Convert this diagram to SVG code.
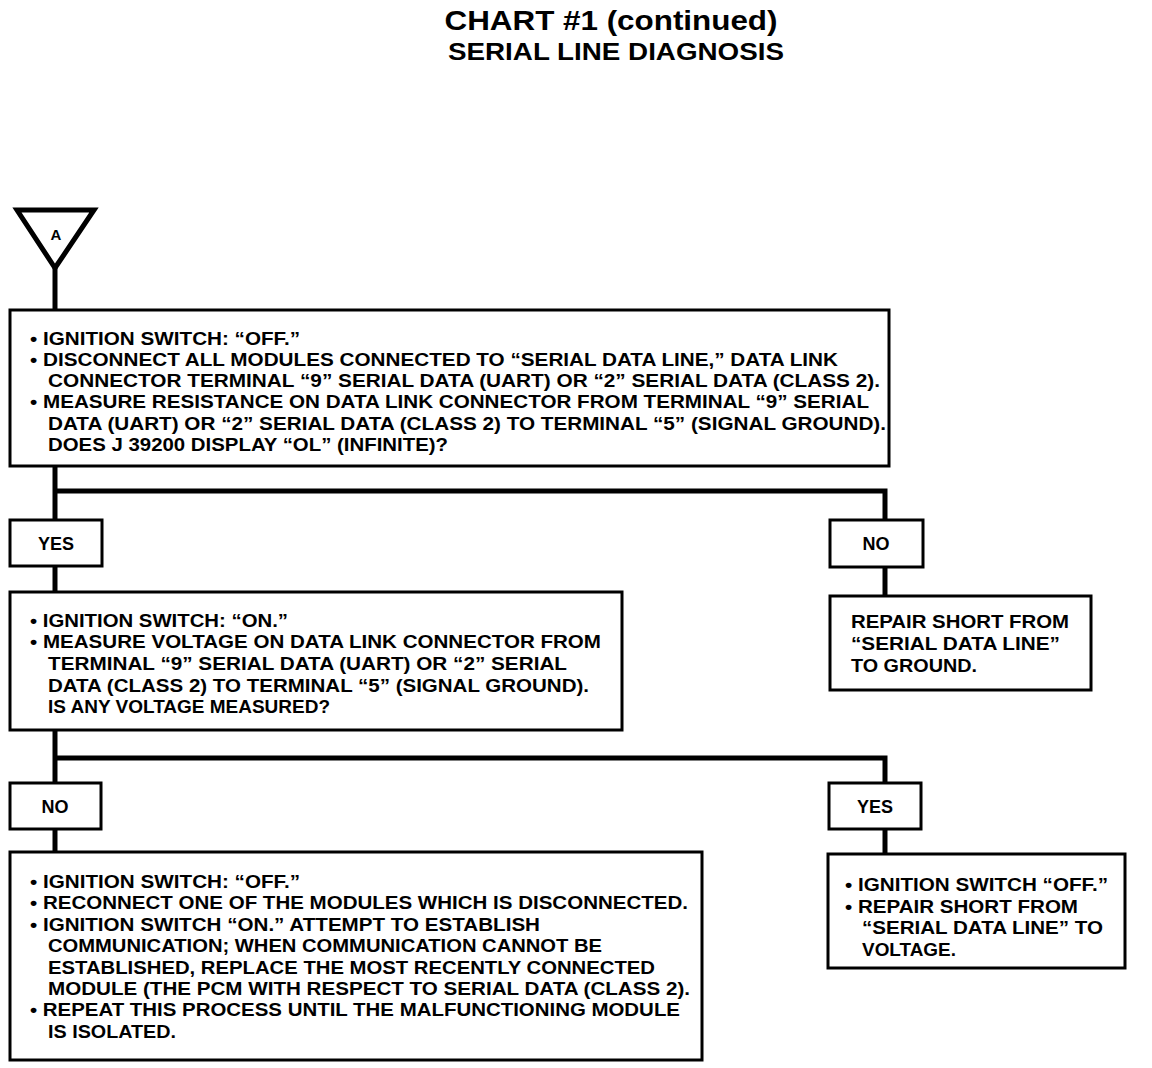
<svg xmlns="http://www.w3.org/2000/svg" width="1152" height="1068" viewBox="0 0 1152 1068">
<style>
.box{fill:#fff;stroke:#000;stroke-width:3}
.ln{fill:none;stroke:#000;stroke-width:5}
text{font-family:"Liberation Sans",Arial,sans-serif;font-weight:bold;fill:#000}
.t{font-size:18px}
.lbl{font-size:18px;text-anchor:middle}
</style>
<rect width="1152" height="1068" fill="#fff"/>
<g id="title">
<text x="611" y="30" font-size="28" text-anchor="middle" textLength="333" lengthAdjust="spacingAndGlyphs">CHART #1 (continued)</text>
<text x="616" y="60" font-size="24" text-anchor="middle" textLength="336" lengthAdjust="spacingAndGlyphs">SERIAL LINE DIAGNOSIS</text>
</g>
<g id="connectors">
<line class="ln" x1="55" y1="268" x2="55" y2="310"/>
<line class="ln" x1="55" y1="466" x2="55" y2="520"/>
<polyline class="ln" points="55,491 885,491 885,520"/>
<line class="ln" x1="55" y1="566" x2="55" y2="592"/>
<line class="ln" x1="885" y1="567" x2="885" y2="596"/>
<line class="ln" x1="55" y1="730" x2="55" y2="783"/>
<polyline class="ln" points="55,758 885,758 885,783"/>
<line class="ln" x1="55" y1="829" x2="55" y2="852"/>
<line class="ln" x1="885" y1="829" x2="885" y2="854"/>
</g>
<g id="start">
<polygon points="17,210 94,210 55,268" fill="#fff" stroke="#000" stroke-width="5" stroke-linejoin="miter"/>
<text x="56" y="240" font-size="15" text-anchor="middle">A</text>
</g>
<g id="box1">
<rect class="box" x="10" y="310" width="879" height="156"/>
<text class="t" x="30" y="345" textLength="270" lengthAdjust="spacingAndGlyphs">• IGNITION SWITCH: “OFF.”</text>
<text class="t" x="30" y="366" textLength="808" lengthAdjust="spacingAndGlyphs">• DISCONNECT ALL MODULES CONNECTED TO “SERIAL DATA LINE,” DATA LINK</text>
<text class="t" x="48" y="387" textLength="832" lengthAdjust="spacingAndGlyphs">CONNECTOR TERMINAL “9” SERIAL DATA (UART) OR “2” SERIAL DATA (CLASS 2).</text>
<text class="t" x="30" y="408" textLength="839" lengthAdjust="spacingAndGlyphs">• MEASURE RESISTANCE ON DATA LINK CONNECTOR FROM TERMINAL “9” SERIAL</text>
<text class="t" x="48" y="430" textLength="838" lengthAdjust="spacingAndGlyphs">DATA (UART) OR “2” SERIAL DATA (CLASS 2) TO TERMINAL “5” (SIGNAL GROUND).</text>
<text class="t" x="48" y="451" textLength="400" lengthAdjust="spacingAndGlyphs">DOES J 39200 DISPLAY “OL” (INFINITE)?</text>
</g>
<g id="yes1">
<rect class="box" x="10" y="520" width="92" height="46"/>
<text class="lbl" x="56" y="550">YES</text>
</g>
<g id="no1">
<rect class="box" x="830" y="520" width="93" height="47"/>
<text class="lbl" x="876" y="550">NO</text>
</g>
<g id="box2">
<rect class="box" x="10" y="592" width="612" height="138"/>
<text class="t" x="30" y="627" textLength="258" lengthAdjust="spacingAndGlyphs">• IGNITION SWITCH: “ON.”</text>
<text class="t" x="30" y="648" textLength="571" lengthAdjust="spacingAndGlyphs">• MEASURE VOLTAGE ON DATA LINK CONNECTOR FROM</text>
<text class="t" x="48" y="670" textLength="519" lengthAdjust="spacingAndGlyphs">TERMINAL “9” SERIAL DATA (UART) OR “2” SERIAL</text>
<text class="t" x="48" y="692" textLength="541" lengthAdjust="spacingAndGlyphs">DATA (CLASS 2) TO TERMINAL “5” (SIGNAL GROUND).</text>
<text class="t" x="48" y="713" textLength="282" lengthAdjust="spacingAndGlyphs">IS ANY VOLTAGE MEASURED?</text>
</g>
<g id="repair1">
<rect class="box" x="830" y="596" width="261" height="94"/>
<text class="t" x="851" y="628" textLength="218" lengthAdjust="spacingAndGlyphs">REPAIR SHORT FROM</text>
<text class="t" x="851" y="650" textLength="209" lengthAdjust="spacingAndGlyphs">“SERIAL DATA LINE”</text>
<text class="t" x="851" y="672" textLength="126" lengthAdjust="spacingAndGlyphs">TO GROUND.</text>
</g>
<g id="no2">
<rect class="box" x="10" y="783" width="91" height="46"/>
<text class="lbl" x="55" y="813">NO</text>
</g>
<g id="yes2">
<rect class="box" x="829" y="783" width="92" height="46"/>
<text class="lbl" x="875" y="813">YES</text>
</g>
<g id="box3">
<rect class="box" x="10" y="852" width="692" height="208"/>
<text class="t" x="30" y="888" textLength="270" lengthAdjust="spacingAndGlyphs">• IGNITION SWITCH: “OFF.”</text>
<text class="t" x="30" y="909" textLength="658" lengthAdjust="spacingAndGlyphs">• RECONNECT ONE OF THE MODULES WHICH IS DISCONNECTED.</text>
<text class="t" x="30" y="931" textLength="510" lengthAdjust="spacingAndGlyphs">• IGNITION SWITCH “ON.” ATTEMPT TO ESTABLISH</text>
<text class="t" x="48" y="952" textLength="554" lengthAdjust="spacingAndGlyphs">COMMUNICATION; WHEN COMMUNICATION CANNOT BE</text>
<text class="t" x="48" y="974" textLength="607" lengthAdjust="spacingAndGlyphs">ESTABLISHED, REPLACE THE MOST RECENTLY CONNECTED</text>
<text class="t" x="48" y="995" textLength="642" lengthAdjust="spacingAndGlyphs">MODULE (THE PCM WITH RESPECT TO SERIAL DATA (CLASS 2).</text>
<text class="t" x="30" y="1016" textLength="650" lengthAdjust="spacingAndGlyphs">• REPEAT THIS PROCESS UNTIL THE MALFUNCTIONING MODULE</text>
<text class="t" x="48" y="1038" textLength="128" lengthAdjust="spacingAndGlyphs">IS ISOLATED.</text>
</g>
<g id="box4">
<rect class="box" x="828" y="854" width="297" height="114"/>
<text class="t" x="845" y="891" textLength="263" lengthAdjust="spacingAndGlyphs">• IGNITION SWITCH “OFF.”</text>
<text class="t" x="845" y="913" textLength="233" lengthAdjust="spacingAndGlyphs">• REPAIR SHORT FROM</text>
<text class="t" x="862" y="934" textLength="241" lengthAdjust="spacingAndGlyphs">“SERIAL DATA LINE” TO</text>
<text class="t" x="862" y="956" textLength="94" lengthAdjust="spacingAndGlyphs">VOLTAGE.</text>
</g>
</svg>
